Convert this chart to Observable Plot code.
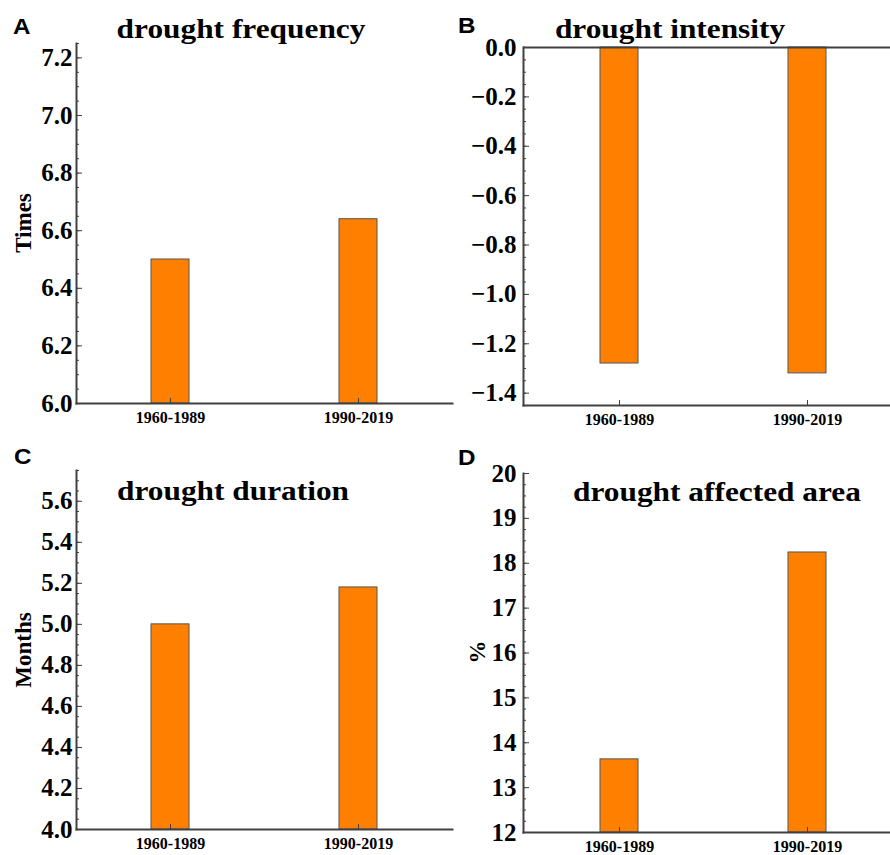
<!DOCTYPE html>
<html><head><meta charset="utf-8">
<script src="https://cdn.jsdelivr.net/npm/d3@7"></script>
<script src="https://cdn.jsdelivr.net/npm/@observablehq/plot@0.6"></script>
<style>
html,body{margin:0;padding:0;background:#fff;}
#wrap{position:relative;width:890px;height:855px;overflow:hidden;background:#fff;}
.panel{position:absolute;}
#overlay{position:absolute;left:0;top:0;pointer-events:none;}
.panel svg text{font-family:"Liberation Serif","Times New Roman",serif !important;font-weight:bold !important;}
</style></head><body><div id="wrap"></div>
<script>
// ---- data ----
const periods = ["1960-1989", "1990-2019"];
const frequency = [6.50, 6.64];
const intensity = [-1.28, -1.32];
const duration = [5.00, 5.18];
const affectedArea = [13.63, 18.24];

const freqTicks = [6.0, 6.2, 6.4, 6.6, 6.8, 7.0, 7.2];
const intensityTicks = [0.0, -0.2, -0.4, -0.6, -0.8, -1.0, -1.2, -1.4];
const durationTicks = [4.0, 4.2, 4.4, 4.6, 4.8, 5.0, 5.2, 5.4, 5.6];
const areaTicks = [12, 13, 14, 15, 16, 17, 18, 19, 20];

const titles = ["drought frequency", "drought intensity", "drought duration", "drought affected area"];
const panelLetters = ["A", "B", "C", "D"];
const yLabels = ["Times", "", "Months", "%"];

const ORANGE = "#FF8000";
const AX = "#404040";
const SERIF = "Liberation Serif, Times New Roman, serif";

const wrap = document.getElementById("wrap");

function panel(o) {
  const data = periods.map((p, i) => ({period: p, value: o.values[i]}));
  const k0 = Math.round(o.domain[0] / o.minorStep), k1 = Math.round(o.domain[1] / o.minorStep);
  const minor = d3.range(k0, k1 + 1).map(k => k * o.minorStep);
  const base = o.domain[1] <= 0 ? 0 : o.domain[0];
  const chart = Plot.plot({
    width: o.width, height: o.height,
    marginLeft: o.mL, marginRight: o.mR, marginTop: o.mT, marginBottom: o.mB,
    style: {background: "transparent", fontFamily: SERIF, overflow: "visible"},
    x: {domain: periods, paddingInner: 0.8, paddingOuter: o.pO, label: null},
    y: {domain: o.domain, label: null},
    marks: [
      Plot.barY(data, {x: "period", y1: base, y2: "value", fill: ORANGE, stroke: "#555", strokeWidth: 1}),
      o.zeroLine ? Plot.ruleY([0], {stroke: AX, strokeWidth: 2}) : null,
      Plot.frame({anchor: "left", stroke: AX, strokeWidth: 2}),
      Plot.frame({anchor: "bottom", stroke: AX, strokeWidth: 2}),
      Plot.axisY(minor, {tickSize: -3, tickFormat: () => "", stroke: AX, label: null}),
      Plot.axisY(o.ticks, {tickSize: -6, tickFormat: () => "", stroke: AX, label: null}),
      Plot.axisY(o.ticks, {tickSize: 0, tickPadding: o.labelGap, tickFormat: o.fmt, fontFamily: SERIF, fontSize: 25, fontWeight: "bold", fill: "#000", label: null}),
      Plot.axisX({tickSize: -5, tickPadding: 13, stroke: AX, fontFamily: SERIF, fontSize: 16, fontWeight: "bold", fill: "#000", label: null})
    ]
  });
  const div = document.createElement("div");
  div.className = "panel";
  div.style.left = o.left + "px";
  div.style.top = o.top + "px";
  div.style.width = o.width + "px";
  div.style.height = o.height + "px";
  div.appendChild(chart);
  wrap.appendChild(div);
}

const f1 = d3.format(".1f");
panel({values: frequency, domain: [6, 7.25], ticks: freqTicks, minorStep: 0.05, fmt: f1,
  left: 0, top: 0, width: 460, height: 430, mL: 76, mR: 8, mT: 43, mB: 27, pO: 0.395, labelGap: 4});
panel({values: intensity, domain: [-1.45, 0], ticks: intensityTicks, minorStep: 0.05, fmt: f1, zeroLine: true,
  left: 440, top: 0, width: 462, height: 430, mL: 83, mR: 0, mT: 47, mB: 25, pO: 0.406, labelGap: 7});
panel({values: duration, domain: [4, 5.75], ticks: durationTicks, minorStep: 0.05, fmt: f1,
  left: 0, top: 430, width: 460, height: 425, mL: 76, mR: 8, mT: 40, mB: 26, pO: 0.395, labelGap: 4});
panel({values: affectedArea, domain: [12, 20], ticks: areaTicks, minorStep: 0.25, fmt: d3.format("d"),
  left: 440, top: 430, width: 462, height: 425, mL: 83, mR: 0, mT: 43, mB: 23, pO: 0.406, labelGap: 7});

// ---- overlay text: titles, panel letters, y labels ----
const NS = "http://www.w3.org/2000/svg";
const ov = document.createElementNS(NS, "svg");
ov.setAttribute("id", "overlay");
ov.setAttribute("width", 890);
ov.setAttribute("height", 855);
wrap.appendChild(ov);
function txt(s, attrs) {
  const t = document.createElementNS(NS, "text");
  for (const k in attrs) t.setAttribute(k, attrs[k]);
  t.textContent = s;
  ov.appendChild(t);
}
const titlePos = [[241, 38], [670, 38], [233, 500], [717, 501]];
titles.forEach((s, i) => txt(s, {transform: `translate(${titlePos[i][0]},${titlePos[i][1]}) scale(1.12,1)`,
  "text-anchor": "middle", "font-family": SERIF, "font-weight": "bold", "font-size": 28, fill: "#000"}));
const letterPos = [[13, 34], [458, 33], [14, 464], [458, 465]];
panelLetters.forEach((s, i) => txt(s, {transform: `translate(${letterPos[i][0]},${letterPos[i][1]}) scale(1.1,1)`,
  "font-family": "Liberation Sans, Arial, sans-serif", "font-weight": "bold", "font-size": 22, fill: "#000"}));
const yLabPos = [[23, 223], null, [23, 650], [477, 652]];
yLabels.forEach((s, i) => { if (!s) return;
  txt(s, {transform: `translate(${yLabPos[i][0]},${yLabPos[i][1]}) rotate(-90)`, dy: "0.35em",
    "text-anchor": "middle", "font-family": SERIF, "font-weight": "bold", "font-size": 23, fill: "#000"}); });
</script>
</body></html>
